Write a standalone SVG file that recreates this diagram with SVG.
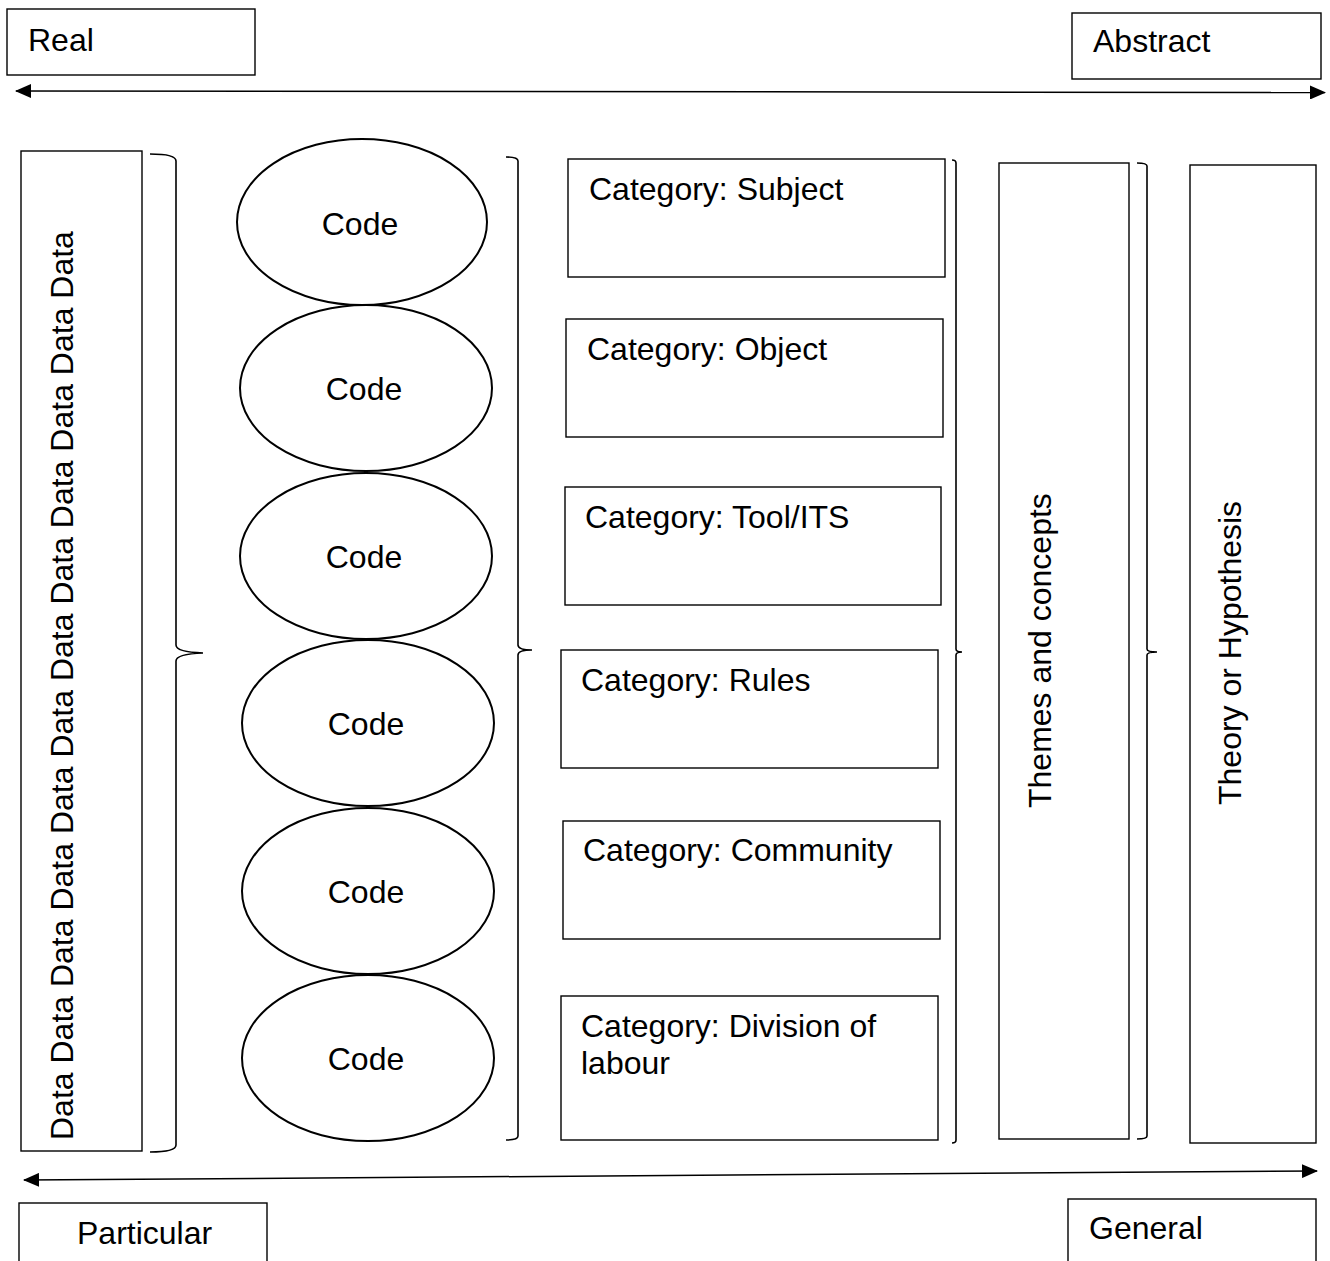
<svg xmlns="http://www.w3.org/2000/svg" width="1330" height="1261" viewBox="0 0 1330 1261">
  <style>
    .box { fill: #fff; stroke: #000; stroke-width: 1.4; }
    .oval { fill: #fff; stroke: #000; stroke-width: 2; }
    .brace { fill: none; stroke: #000; stroke-width: 1.6; }
    .axis { fill: none; stroke: #000; stroke-width: 1.5; }
    text { font-family: "Liberation Sans", Arial, sans-serif; font-size: 32px; fill: #000; }
    .mid { text-anchor: middle; }
  </style>
  <defs>
    <marker id="head" viewBox="0 0 16 14" refX="15" refY="7" markerWidth="16" markerHeight="14" markerUnits="userSpaceOnUse" orient="auto-start-reverse">
      <path d="M0,0 L16,7 L0,14 Z" fill="#000"/>
    </marker>
  </defs>

  <!-- axis labels -->
  <g id="real"><rect class="box" x="7" y="9" width="248" height="66"/><text x="28" y="51">Real</text></g>
  <g id="abstract"><rect class="box" x="1072" y="13" width="249" height="66"/><text x="1093" y="52">Abstract</text></g>
  <g id="particular"><rect class="box" x="19" y="1203" width="248" height="70"/><text x="77" y="1244">Particular</text></g>
  <g id="general"><rect class="box" x="1068" y="1199" width="248" height="74"/><text x="1089" y="1239">General</text></g>

  <!-- raw data column -->
  <g id="data">
    <rect class="box" x="21" y="151" width="121" height="1000"/>
    <text transform="translate(73,1140) rotate(-90)">Data Data Data Data Data Data Data Data Data Data Data Data</text>
  </g>

  <!-- codes -->
  <g id="code1"><ellipse class="oval" cx="362" cy="222" rx="125" ry="83"/><text class="mid" x="360" y="235">Code</text></g>
  <g id="code2"><ellipse class="oval" cx="366" cy="388" rx="126" ry="83"/><text class="mid" x="364" y="400">Code</text></g>
  <g id="code3"><ellipse class="oval" cx="366" cy="556" rx="126" ry="83"/><text class="mid" x="364" y="568">Code</text></g>
  <g id="code4"><ellipse class="oval" cx="368" cy="723" rx="126" ry="83"/><text class="mid" x="366" y="735">Code</text></g>
  <g id="code5"><ellipse class="oval" cx="368" cy="891" rx="126" ry="83"/><text class="mid" x="366" y="903">Code</text></g>
  <g id="code6"><ellipse class="oval" cx="368" cy="1058" rx="126" ry="83"/><text class="mid" x="366" y="1070">Code</text></g>

  <!-- categories -->
  <g id="cat-subject"><rect class="box" x="568" y="159" width="377" height="118"/><text x="589" y="200">Category: Subject</text></g>
  <g id="cat-object"><rect class="box" x="566" y="319" width="377" height="118"/><text x="587" y="360">Category: Object</text></g>
  <g id="cat-tool"><rect class="box" x="565" y="487" width="376" height="118"/><text x="585" y="528">Category: Tool/ITS</text></g>
  <g id="cat-rules"><rect class="box" x="561" y="650" width="377" height="118"/><text x="581" y="691">Category: Rules</text></g>
  <g id="cat-community"><rect class="box" x="563" y="821" width="377" height="118"/><text x="583" y="861">Category: Community</text></g>
  <g id="cat-division"><rect class="box" x="561" y="996" width="377" height="144"/><text x="581" y="1037">Category: Division of</text><text x="581" y="1074">labour</text></g>

  <!-- themes and theory -->
  <g id="themes">
    <rect class="box" x="999" y="163" width="130" height="976"/>
    <text transform="translate(1051,808) rotate(-90)">Themes and concepts</text>
  </g>
  <g id="theory">
    <rect class="box" x="1190" y="165" width="126" height="978"/>
    <text transform="translate(1241,805) rotate(-90)">Theory or Hypothesis</text>
  </g>

  <!-- braces and axes -->
  <g id="connectors">
    <path class="brace" d="M150,154 Q176,154 176,161 L176,645 Q176,652 203,653 Q176,654 176,661 L176,1145 Q176,1152 150,1152"/>
    <path class="brace" d="M506,157 Q518,157 518,161 L518,645 Q518,650 532,650 Q518,650 518,655 L518,1136 Q518,1140 506,1140"/>
    <path class="brace" d="M952,160 Q956,160 956,163 L956,649 Q956,652 962,652 Q956,652 956,655 L956,1140 Q956,1143 952,1143"/>
    <path class="brace" d="M1137,163 Q1147,163 1147,166 L1147,649 Q1147,652 1157,652 Q1147,652 1147,655 L1147,1136 Q1147,1139 1137,1139"/>
    <line class="axis" x1="16" y1="91" x2="1325" y2="92.5" marker-start="url(#head)" marker-end="url(#head)"/>
    <line class="axis" x1="24" y1="1180" x2="1317" y2="1171" marker-start="url(#head)" marker-end="url(#head)"/>
  </g>
</svg>
